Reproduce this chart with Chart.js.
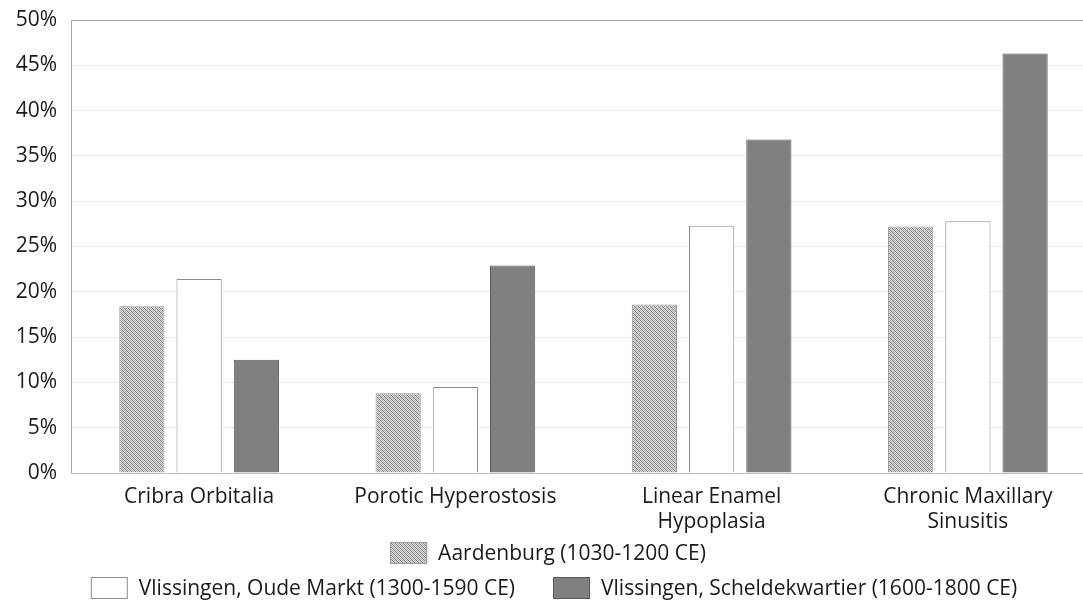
<!DOCTYPE html>
<html>
<head>
<meta charset="utf-8">
<script src="https://cdn.jsdelivr.net/npm/chart.js@4.4.1/dist/chart.umd.min.js"></script>
<style>
  html, body { margin: 0; padding: 0; background: #fff; overflow: hidden; }
  #wrap { width: 1096px; height: 601px; }
</style>
</head>
<body>
<div id="wrap"><canvas id="lesionChart"></canvas></div>
<script>
// Categories and prevalence (%) per site
const categories = ['Cribra Orbitalia', 'Porotic Hyperostosis', ['Linear Enamel', 'Hypoplasia'], ['Chronic Maxillary', 'Sinusitis']];
const seriesNames = ['Aardenburg (1030-1200 CE)', 'Vlissingen, Oude Markt (1300-1590 CE)', 'Vlissingen, Scheldekwartier (1600-1800 CE)'];
const aardenburg = [18.4, 8.8, 18.6, 27.2];
const oudeMarkt = [21.4, 9.5, 27.3, 27.8];
const scheldekwartier = [12.5, 22.9, 36.8, 46.3];
const yTicks = [0, 5, 10, 15, 20, 25, 30, 35, 40, 45, 50];

const FONT = '"Open Sans", "Liberation Sans", sans-serif';

// small hatch tile for the Aardenburg bars
function makeHatch() {
    const c = document.createElement('canvas');
    c.width = 4; c.height = 4;
    const g = c.getContext('2d');
    g.fillStyle = '#e0e0e0';
    g.fillRect(0, 0, 4, 4);
    for (let i = 0; i < 4; i++) {
        g.fillStyle = '#7a7a7a';
        g.fillRect(i, i, 1, 1);
        g.fillStyle = '#aaaaaa';
        g.fillRect((i + 2) % 4, i, 1, 1);
    }
    return g.createPattern(c, 'repeat');
}
const hatch = makeHatch();

const fills = [hatch, '#ffffff', '#808080'];
const borders = ['#9a9a9a', '#8c8c8c', '#5a5a5a'];

// legend drawn in two rows like the original
const twoRowLegend = {
    id: 'twoRowLegend',
    afterDraw(chart) {
        const ctx = chart.ctx;
        const rows = [[0], [1, 2]];
        const rowY = [553, 588];
        const boxW = 37, boxH = 22, gap = 11, itemGap = 38;
        ctx.save();
        ctx.font = '21px ' + FONT;
        ctx.textBaseline = 'middle';
        rows.forEach((row, r) => {
            const widths = row.map(i => boxW + gap + ctx.measureText(seriesNames[i]).width);
            const total = widths.reduce((a, b) => a + b, 0) + itemGap * (row.length - 1);
            let x = (chart.width - total) / 2 + (r === 1 ? 6 : 0);
            row.forEach((i, k) => {
                const y = rowY[r];
                ctx.fillStyle = fills[i];
                ctx.fillRect(x, y - boxH / 2, boxW, boxH);
                ctx.strokeStyle = borders[i];
                ctx.lineWidth = 1;
                ctx.strokeRect(x + 0.5, y - boxH / 2 + 0.5, boxW - 1, boxH - 1);
                ctx.fillStyle = '#1a1a1a';
                ctx.fillText(seriesNames[i], x + boxW + gap, y + 1);
                x += widths[k] + itemGap;
            });
        });
        ctx.restore();
    }
};

// plot area border on left and top
const plotBorder = {
    id: 'plotBorder',
    afterDatasetsDraw(chart) {
        const a = chart.chartArea;
        const ctx = chart.ctx;
        ctx.save();
        ctx.strokeStyle = '#a6a6a6';
        ctx.lineWidth = 1;
        ctx.beginPath();
        ctx.moveTo(Math.round(a.left) + 0.5, a.bottom);
        ctx.lineTo(Math.round(a.left) + 0.5, Math.round(a.top) + 0.5);
        ctx.lineTo(a.right, Math.round(a.top) + 0.5);
        ctx.stroke();
        ctx.restore();
    }
};

const ctx = document.getElementById('lesionChart').getContext('2d');
new Chart(ctx, {
    type: 'bar',
    data: {
        labels: categories,
        datasets: [
            { label: seriesNames[0], data: aardenburg, backgroundColor: fills[0], borderColor: borders[0], borderWidth: 1 },
            { label: seriesNames[1], data: oudeMarkt, backgroundColor: fills[1], borderColor: borders[1], borderWidth: 1 },
            { label: seriesNames[2], data: scheldekwartier, backgroundColor: fills[2], borderColor: borders[2], borderWidth: 1 }
        ]
    },
    options: {
        responsive: true,
        maintainAspectRatio: false,
        animation: false,
        categoryPercentage: 0.67,
        barPercentage: 0.79,
        layout: { padding: { top: 20, right: 0, bottom: 0, left: 0 } },
        plugins: {
            legend: { display: false },
            tooltip: { enabled: false }
        },
        scales: {
            x: {
                grid: { display: false, drawTicks: false },
                border: { color: '#bfbfbf' },
                ticks: { font: { family: FONT, size: 21, lineHeight: 1.2 }, color: '#1a1a1a', padding: 11, maxRotation: 0, autoSkip: false },
                afterFit(scale) { scale.height = 128; }
            },
            y: {
                min: 0,
                max: 50,
                afterBuildTicks(scale) { scale.ticks = yTicks.map(v => ({ value: v })); },
                grid: { color: '#ebebeb', drawTicks: false },
                border: { display: false },
                ticks: {
                    font: { family: FONT, size: 21 },
                    color: '#1a1a1a',
                    padding: 14,
                    callback: v => v + '%'
                },
                afterFit(scale) {
                    scale.width = 71;
                    scale.paddingTop = 0;
                    scale.paddingBottom = 0;
                }
            }
        }
    },
    plugins: [plotBorder, twoRowLegend]
});
</script>
</body>
</html>
